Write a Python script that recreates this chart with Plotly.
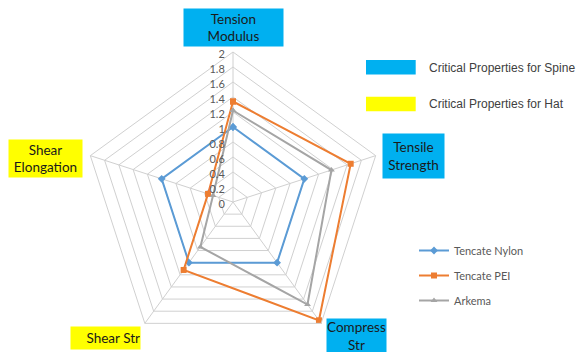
import plotly.graph_objects as go

categories = ["Tension Modulus", "Tensile Strength", "Compress Str", "Shear Str", "Shear Elongation"]
nylon = [1.0, 1.0, 1.0, 1.0, 1.0]
pei = [1.34, 1.65, 1.95, 1.12, 0.35]
arkema = [1.22, 1.38, 1.69, 0.74, 0.28]

series_names = ["Tencate Nylon", "Tencate PEI", "Arkema"]
series_vals = [nylon, pei, arkema]
colors = ["#5B9BD5", "#ED7D31", "#A5A5A5"]
symbols = ["diamond", "square", "triangle-up"]

spine_labels = ["Tension<br>Modulus", "Tensile<br>Strength", "Compress<br>Str"]
hat_labels = ["Shear<br>Elongation", "Shear Str"]
legend_boxes = ["Critical Properties for Spine", "Critical Properties for Hat"]

W, H = 581, 352
CYAN = "#00B0F0"
YELLOW = "#FFFF00"

fig = go.Figure()
for name, vals, c, s in zip(series_names, series_vals, colors, symbols):
    fig.add_trace(go.Scatterpolar(
        r=vals + vals[:1], theta=categories + categories[:1],
        mode="lines+markers", name=name,
        line=dict(color=c, width=2),
        marker=dict(symbol=s, size=6, color=c),
        legendgroup=name,
    ))

cx, cy, R = 233, 202, 150

def px(x):
    return x / W

def py(y):
    return 1 - y / H

fig.update_layout(
    width=W, height=H,
    margin=dict(l=0, r=0, t=0, b=0),
    paper_bgcolor="white",
    plot_bgcolor="white",
    font=dict(family="Lato, 'Open Sans', sans-serif", size=11, color="#595959"),
    polar=dict(
        domain=dict(x=[px(cx - R), px(cx + R)], y=[0, (H - cy + R) / H]),
        gridshape="linear",
        bgcolor="white",
        radialaxis=dict(
            range=[0, 2], dtick=0.2, angle=90, side="counterclockwise",
            showline=False, gridcolor="#D0D0D0", gridwidth=1, ticks="",
            tickfont=dict(size=11, color="#595959"),
        ),
        angularaxis=dict(
            type="category", categoryarray=categories,
            rotation=90, direction="clockwise",
            showticklabels=False, ticks="",
            gridcolor="#D0D0D0", linecolor="#D0D0D0", linewidth=1,
        ),
    ),
    showlegend=True,
    legend=dict(
        x=px(414), y=py(236), xanchor="left", yanchor="top",
        font=dict(size=11, color="#595959"),
        tracegroupgap=6, bgcolor="rgba(0,0,0,0)",
    ),
)

label_font = dict(family="Lato, 'Open Sans', sans-serif", size=13.5, color="#1a1a1a")
# (text, center x, center y, width, height, color, align)
boxes = [
    (spine_labels[0], 233, 27.7, 99, 37, CYAN, "center"),
    (spine_labels[1], 413.3, 155.5, 61, 44, CYAN, "center"),
    (spine_labels[2], 356.5, 336, 59, 34, CYAN, "center"),
    (hat_labels[0], 45, 158.3, 73, 37, YELLOW, "center"),
    (hat_labels[1], 105.5, 337.5, 69, 22, YELLOW, "right"),
]
for text, x, y, w, h, col, al in boxes:
    fig.add_annotation(
        text=text, x=px(x), y=py(y), xref="paper", yref="paper",
        xanchor="center", yanchor="middle", showarrow=False,
        width=w, height=h, bgcolor=col, borderpad=0, align=al,
        font=label_font,
    )

# Critical-properties key
for i, (txt, col) in enumerate(zip(legend_boxes, [CYAN, YELLOW])):
    y0 = 60 + i * 36.7
    fig.add_shape(type="rect", xref="paper", yref="paper",
                  x0=px(366), x1=px(415.7), y0=py(y0), y1=py(y0 + 14.5),
                  fillcolor=col, line=dict(width=0))
    fig.add_annotation(text=txt, x=px(427), y=py(y0 + 7.5), xref="paper", yref="paper",
                       xanchor="left", yanchor="middle", showarrow=False,
                       font=dict(family="Liberation Sans, Arial, sans-serif", size=12, color="#404040"))

fig.write_html("out.html")
